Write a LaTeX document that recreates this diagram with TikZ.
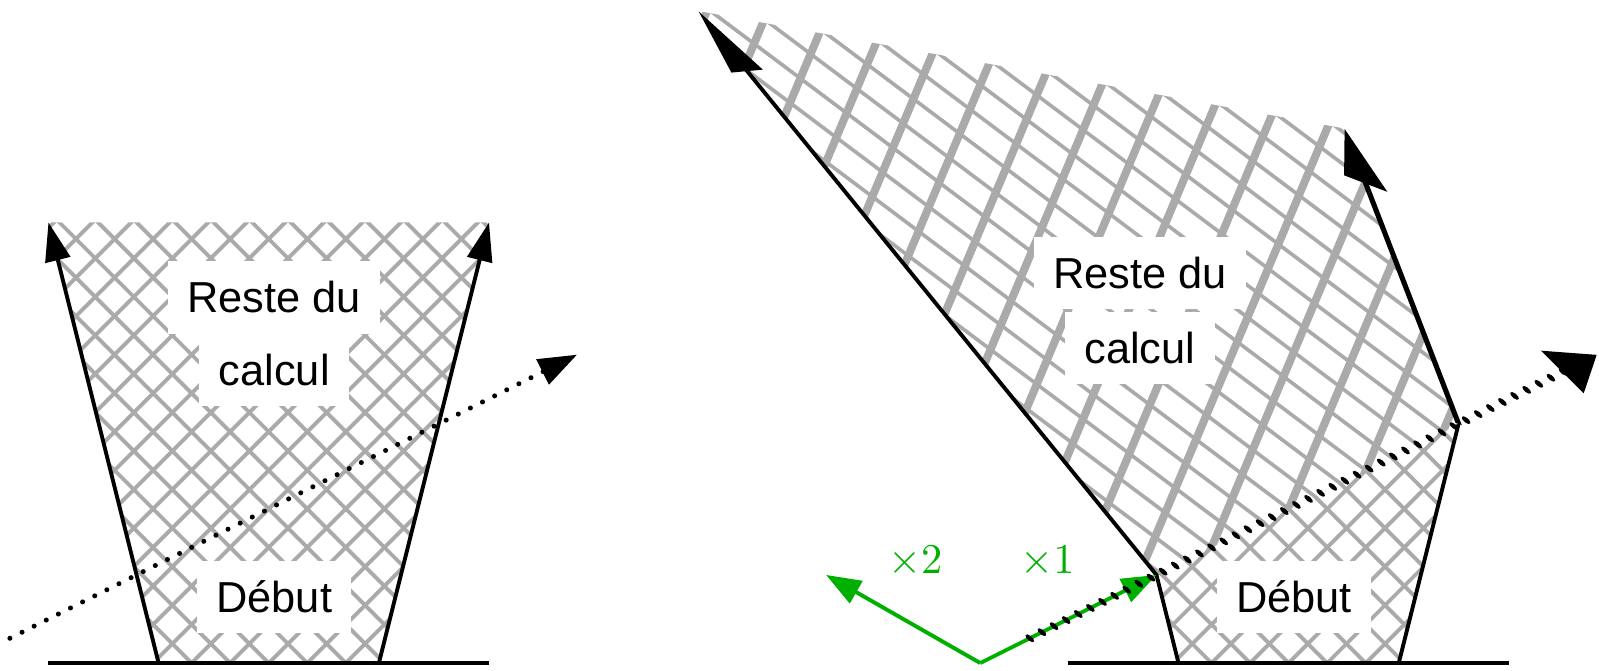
\documentclass[tikz,border=0pt]{standalone}
\usepackage{fontspec}
\newfontfamily\labfont{Liberation Sans}
\usetikzlibrary{arrows.meta}
\definecolor{hatchgray}{RGB}{170,170,170}
\definecolor{arrgreen}{RGB}{0,176,0}
\tikzset{
  hatchline/.style={draw=hatchgray, line width=1pt},
  sideline/.style={line width=1pt, -{Triangle[length=10pt,width=6.5pt]}},
  plainside/.style={line width=1pt},
  groundline/.style={line width=1.2pt},
  dotline/.style={line width=1.3pt, line cap=round, dash pattern=on 0pt off 3.5pt, -{Triangle[length=10pt,width=7pt]}},
  greenarrow/.style={draw=arrgreen, line width=1pt, -{Triangle[length=9pt,width=6.5pt]}},
  lab/.style={fill=white, font=\labfont\fontsize{11.2}{13}\selectfont, inner xsep=5pt, inner ysep=0pt, minimum height=0.66cm},
  glab/.style={text=arrgreen, font=\fontsize{11.2}{13}\selectfont},
}
\newcommand\hatchlines{\foreach \k in {-24,...,24}{\draw[hatchline] (\k*0.35-8,-8) -- (\k*0.35+8,8); \draw[hatchline] (\k*0.35+8,-8) -- (\k*0.35-8,8);}}
\begin{document}
\begin{tikzpicture}
\useasboundingbox (-2.44,-0.064) rectangle (12.078,6.02);
% ---------------- left diagram ----------------
\coordinate (LA) at (-1,0);
\coordinate (LB) at (1,0);
\coordinate (LC) at (2,4);
\coordinate (LD) at (-2,4);
\begin{scope}
  \clip (LA) -- (LB) -- (LC) -- (LD) -- cycle;
  \hatchlines
\end{scope}
\node[lab] (lreste) at (0.05,3.32) {Reste du};
\node[lab] (lcalcul) at (0.05,2.66) {calcul};
\node[lab] (ldebut) at (0.05,0.6) {Début};
\draw[sideline] (LA) -- (LD);
\draw[sideline] (LB) -- (LC);
\coordinate (LG1) at (-2,0);
\coordinate (LG2) at (2,0);
\draw[groundline] (LG1) -- (LG2);
\coordinate (LS) at (-2.35,0.225);
\coordinate (LE) at (2.8,2.8);
\draw[dotline] (LS) -- (LE);
% ---------------- right diagram ----------------
\begin{scope}[xshift=9.26cm]
  \coordinate (RA) at (-1,0);
  \coordinate (RB) at (1,0);
  \coordinate (RK1) at (-1.2,0.8);
  \coordinate (RK2) at (1.5429,2.1714);
  \begin{scope}
    \clip (RA) -- (RB) -- (RK2) -- (RK1) -- cycle;
    \hatchlines
  \end{scope}
\end{scope}
\begin{scope}[transform canvas={cm={1.4667,-0.2667,-0.9333,1.5333,(10.5667,-0.7467)}}]
  \begin{scope}
    \clip (-1.2,0.8) -- (1.5429,2.1714) -- (2,4) -- (-2,4) -- cycle;
    \hatchlines
  \end{scope}
\end{scope}
\begin{scope}[xshift=9.26cm]
  \node[lab] (rreste) at (-1.35,3.54) {Reste du};
  \node[lab] (rcalcul) at (-1.35,2.86) {calcul};
  \node[lab] (rdebut) at (0.05,0.6) {Début};
  \draw[plainside] (RA) -- (RK1);
  \draw[plainside] (RB) -- (RK2);
  \coordinate (RG1) at (-2,0);
  \coordinate (RG2) at (2,0);
  \draw[groundline] (RG1) -- (RG2);
\end{scope}
\begin{scope}[transform canvas={cm={1.4667,-0.2667,-0.9333,1.5333,(10.5667,-0.7467)}}]
  \coordinate (TK1) at (-1.2,0.8);
  \coordinate (TK2) at (1.5429,2.1714);
  \coordinate (TC) at (2,4);
  \coordinate (TD) at (-2,4);
  \draw[sideline] (TK1) -- (TD);
  \draw[sideline] (TK2) -- (TC);
\end{scope}
\begin{scope}[xshift=9.26cm]
  \coordinate (GO) at (-2.8,0);
  \coordinate (GL) at (-4.2,0.8);
  \draw[greenarrow] (GO) -- (GL);
  \draw[greenarrow] (GO) -- (RK1);
  \node[glab] (xtwo) at (-3.39,0.92) {$\times2$};
  \node[glab] (xone) at (-2.19,0.92) {$\times1$};
\end{scope}
\begin{scope}[transform canvas={cm={1.4667,-0.2667,-0.9333,1.5333,(10.5667,-0.7467)}}]
  \coordinate (TS) at (-2.35,0.225);
  \coordinate (TE) at (2.8,2.8);
  \draw[dotline] (TS) -- (TE);
\end{scope}
\end{tikzpicture}
\end{document}
